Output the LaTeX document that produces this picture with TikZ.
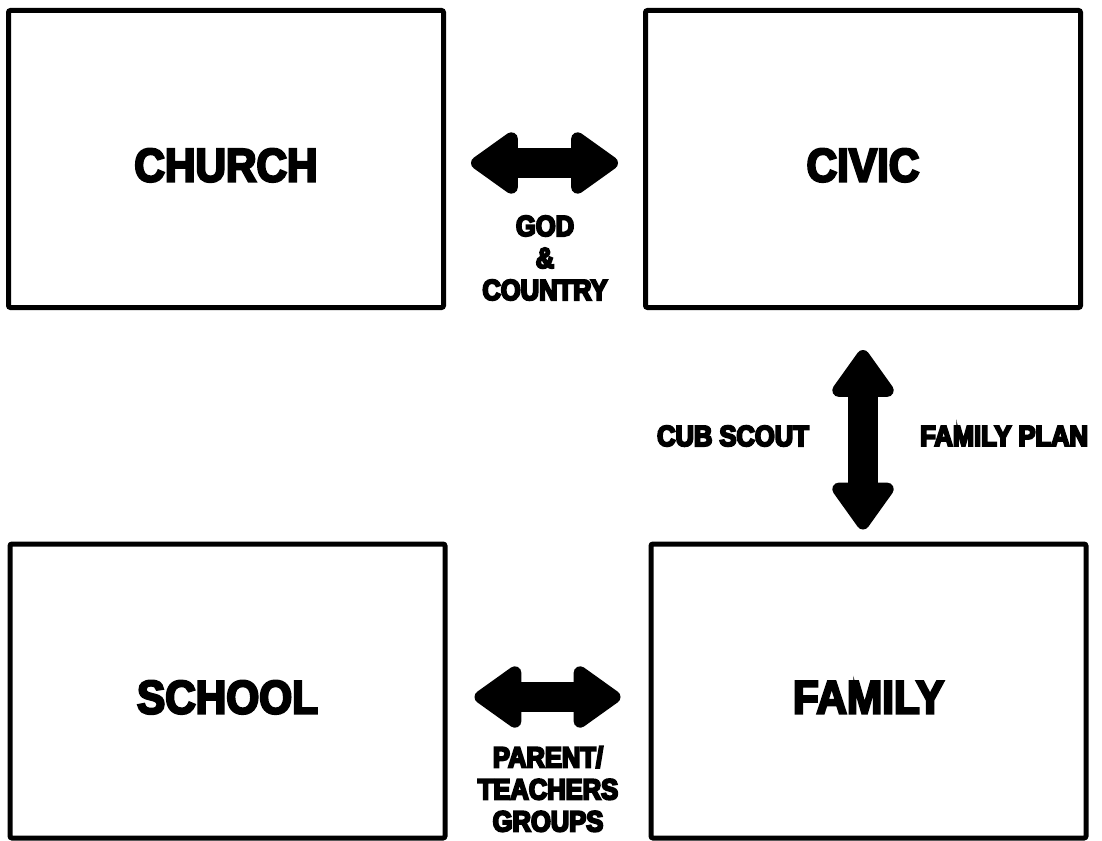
\documentclass[tikz,border=0pt]{standalone}
\usepackage{fontspec}
\usetikzlibrary{positioning,arrows.meta}
\newfontfamily\heavyfont[FakeBold=5,FakeStretch=0.9]{Liberation Sans Bold}
\newfontfamily\linkfont[FakeBold=7,FakeStretch=0.88]{Liberation Sans Bold}

\begin{document}
\begin{tikzpicture}
[x=1pt, y=-1pt,
groupbox/.style={rectangle, draw=black, line width=5pt, rounded corners=2pt, inner sep=0pt, minimum width=435pt, minimum height=297pt, text height=45pt, text depth=0pt, font=\heavyfont\fontsize{47}{50}\selectfont},
blockarrow/.style={line width=30pt, {Triangle[length=52pt,width=70pt,round]}-{Triangle[length=52pt,width=70pt,round]}},
linklabel/.style={align=center, inner sep=0pt, font=\linkfont\fontsize{29}{32}\selectfont},
]
\useasboundingbox (0,0) rectangle (1102,840);

% the four groups
\node[groupbox] (church) at (226,159) {CHURCH};
\node[groupbox] (civic)  at (863,159) {CIVIC};
\node[groupbox, minimum height=294pt] (school) at (227.5,691) {SCHOOL};
\node[groupbox, minimum height=294pt] (family) at (868.5,691) {FAMILY};

% links between them
\draw[blockarrow, shorten <=25pt, shorten >=25pt] ([yshift=-4pt]church.east) -- ([yshift=-4pt]civic.west);
\draw[blockarrow, shorten <=40pt, shorten >=12pt] (civic.south) -- (civic.south |- family.north);
\draw[blockarrow, shorten <=27pt, shorten >=28pt] ([yshift=-6pt]school.east) -- ([yshift=-6pt]family.west);

\node[linklabel] (godcountry) at (545,258) {GOD\\\&\\COUNTRY};
\node[linklabel, anchor=east] (cubscout) at (809,436) {CUB SCOUT};
\node[linklabel, anchor=west] (familyplan) at (920,436) {FAMILY PLAN};
\node[linklabel] (parentteacher) at (548,789) {PARENT/\\TEACHERS\\GROUPS};
\end{tikzpicture}
\end{document}
